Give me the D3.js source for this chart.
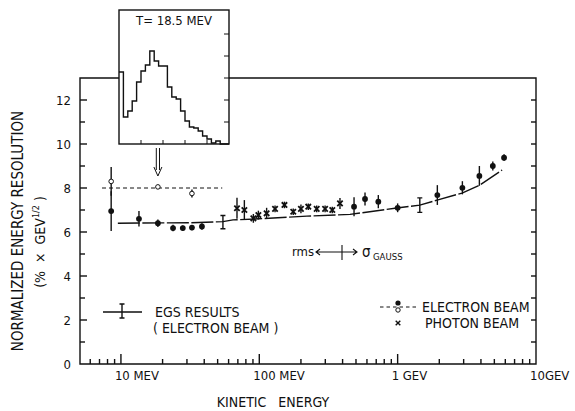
<!DOCTYPE html>
<html><head><meta charset="utf-8">
<script src="https://cdn.jsdelivr.net/npm/d3@7"></script>
<style>
body{margin:0;background:#fff}
svg{display:block;background:#fff}
text{font-family:'DejaVu Sans Condensed','DejaVu Sans',sans-serif;font-stretch:condensed;fill:#111}
</style></head><body>
<svg id="c" width="575" height="411"></svg>
<script>
// Electron beam, filled symbols: kinetic energy (MeV), normalized resolution, error
const elecE   = [8.5, 13.5, 18.5, 23.8, 28, 32.6, 38.5, 484, 581, 725, 1000, 1936, 2937, 3897, 4874, 5877];
const elecV   = [6.95, 6.6, 6.4, 6.18, 6.18, 6.2, 6.25, 7.15, 7.5, 7.38, 7.1, 7.68, 8.01, 8.55, 9.0, 9.38];
const elecErr = [0.9, 0.35, 0.17, 0.15, 0.12, 0.12, 0.15, 0.43, 0.3, 0.3, 0.2, 0.45, 0.3, 0.45, 0.2, 0.15];
// Electron beam, open symbols
const openE   = [8.5, 18.5, 32.6];
const openV   = [8.3, 8.05, 7.75];
const openErr = [0.65, 0.1, 0.18];
const openLevelE = [7.3, 54];
const openLevel  = 8;
// Photon beam
const photE   = [69, 78, 90.6, 98.5, 113, 130, 152, 176, 200, 226, 260, 299, 337, 383];
const photV   = [7.08, 7.0, 6.62, 6.77, 6.85, 7.05, 7.23, 6.92, 7.05, 7.15, 7.05, 7.05, 7.0, 7.3];
const photErr = [0.48, 0.45, 0.2, 0.2, 0.25, 0.15, 0.15, 0.15, 0.2, 0.15, 0.15, 0.15, 0.15, 0.25];
// EGS results (electron beam)
const egsE = [9.5, 31.5, 54.6, 64.6, 100, 221, 453, 956, 1446, 1927, 2922, 3945, 5690];
const egsV = [6.4, 6.42, 6.47, 6.55, 6.6, 6.72, 6.8, 7.08, 7.22, 7.45, 7.77, 8.14, 8.82];
const egsBarE = [54.6, 1446];
const egsBarV = [6.45, 7.22];
const egsBarErr = [0.3, 0.33];
// Line shape at T = 18.5 MeV
const histCounts = [72, 27, 33, 43, 62, 73, 79, 93, 83, 78, 78, 57, 47, 45, 33, 23, 17, 16, 13, 8, 5, 1, 3, 0, 0];
// Axis ticks
const xTickValues = [10, 100, 1000, 10000];
const xTickLabels = ["10 MEV", "100 MEV", "1 GEV", "10GEV"];
const yTickValues = [0, 2, 4, 6, 8, 10, 12];

const svg = d3.select("#c");
const ink = "#111";
const x = d3.scaleLog().domain([5.06, 10000]).range([80, 536]);
const y = d3.scaleLinear().domain([0, 13]).range([364, 78]);
const X0 = x.range()[0], X1 = x.range()[1], Y0 = y(0), Ytop = y(13);

// inset geometry
const ix = d3.scaleLinear().domain([0, histCounts.length]).range([119, 229]);
const iy = d3.scaleLinear().domain([0, 134]).range([144, 10]);

const g = svg.append("g").attr("stroke", ink).attr("fill", "none").attr("stroke-width", 1.4);

// frame
g.append("path").attr("d",
  `M${ix(0)},${Ytop}H${X0}V${Y0}H${X1}V${Ytop}H${ix.range()[1]}`);

// x ticks (inward)
const minor = x.ticks().filter(v => v > x.domain()[0] && v < x.domain()[1]);
minor.forEach(v => {
  const major = Math.abs(Math.log10(v) - Math.round(Math.log10(v))) < 1e-9;
  g.append("line").attr("x1", x(v)).attr("x2", x(v)).attr("y1", Y0).attr("y2", Y0 - (major ? 10 : 5));
});
// y ticks, left and right axes
d3.range(1, 13).forEach(v => {
  const len = v % 2 === 0 ? 7 : 5;
  g.append("line").attr("x1", X0).attr("x2", X0 + len).attr("y1", y(v)).attr("y2", y(v));
  g.append("line").attr("x1", X1).attr("x2", X1 - 5).attr("y1", y(v)).attr("y2", y(v));
});

// tick labels
svg.selectAll("text.xt").data(xTickValues).join("text")
  .attr("x", d => x(d) - 6).attr("y", 380).attr("font-size", 13).text((d, i) => xTickLabels[i]);
svg.selectAll("text.yt").data(yTickValues).join("text")
  .attr("x", 71).attr("y", d => y(d) + 5).attr("text-anchor", "end").attr("font-size", 13).text(d => d);

// axis titles
svg.append("text").attr("x", 273).attr("y", 407).attr("text-anchor", "middle").attr("font-size", 14)
  .attr("xml:space", "preserve").text("KINETIC   ENERGY");
svg.append("text").attr("transform", "translate(23,231) rotate(-90)").attr("text-anchor", "middle")
  .attr("font-size", 15).text("NORMALIZED ENERGY RESOLUTION");
const yt2 = svg.append("text").attr("transform", "translate(45,242) rotate(-90)").attr("text-anchor", "middle")
  .attr("font-size", 14).attr("xml:space", "preserve");
yt2.append("tspan").text("(%  ×  GEV");
yt2.append("tspan").attr("font-size", 9).attr("dy", -6).text("1/2");
yt2.append("tspan").attr("dy", 6).text(" )");

// EGS curve
const line = d3.line().x((d, i) => x(egsE[i])).y(d => y(d));
g.append("path").attr("d", line(egsV)).attr("stroke-dasharray", "22,2.5");
// EGS error bars
egsBarE.forEach((e, i) => {
  const cx = x(e), t = y(egsBarV[i] + egsBarErr[i]), b = y(egsBarV[i] - egsBarErr[i]);
  g.append("path").attr("d", `M${cx},${t}V${b}M${cx-2.5},${t}H${cx+2.5}M${cx-2.5},${b}H${cx+2.5}`);
});

// open-symbol reference level
g.append("line").attr("x1", x(openLevelE[0])).attr("x2", x(openLevelE[1]))
  .attr("y1", y(openLevel)).attr("y2", y(openLevel)).attr("stroke-dasharray", "4,3").attr("stroke-width", 1);

// error bars
function bars(E, V, Err) {
  E.forEach((e, i) => {
    g.append("line").attr("x1", x(e)).attr("x2", x(e))
      .attr("y1", y(V[i] + Err[i])).attr("y2", y(V[i] - Err[i]));
  });
}
bars(elecE, elecV, elecErr);
bars(openE, openV, openErr);
bars(photE, photV, photErr);

// markers
svg.selectAll("circle.f").data(elecV).join("circle")
  .attr("cx", (d, i) => x(elecE[i])).attr("cy", d => y(d)).attr("r", 2.9).attr("fill", ink);
svg.selectAll("circle.o").data(openV).join("circle")
  .attr("cx", (d, i) => x(openE[i])).attr("cy", d => y(d)).attr("r", 2.3)
  .attr("fill", "#fff").attr("stroke", ink).attr("stroke-width", 1);
function cross(cx, cy, s) {
  return `M${cx-s},${cy-s}L${cx+s},${cy+s}M${cx-s},${cy+s}L${cx+s},${cy-s}`;
}
photV.forEach((v, i) => {
  g.append("path").attr("d", cross(x(photE[i]), y(v), 2.7)).attr("stroke-width", 1.8);
});

// arrow marking the energy of the inset line shape
{
  const ax = x(18.5);
  g.append("path").attr("stroke-width", 1)
    .attr("d", `M${ax-1.6},148V170M${ax+1.6},148V170M${ax-4},167L${ax},176L${ax+4},167`);
}

// rms / sigma annotation
svg.append("text").attr("x", 292).attr("y", 256).attr("font-size", 13).text("rms");
g.append("path").attr("stroke-width", 1.1).attr("d", "M316,252H357M320,249L316,252L320,255M353,249L357,252L353,255M342,245V260");
svg.append("text").attr("x", 362).attr("y", 257).attr("font-size", 15).text("σ");
svg.append("text").attr("x", 373).attr("y", 260).attr("font-size", 9.5).text("GAUSS");

// legend: EGS
g.append("path").attr("d", "M103,312H142M122,304V318M119.5,304H124.5M119.5,318H124.5");
svg.append("text").attr("x", 155).attr("y", 317).attr("font-size", 14).text("EGS RESULTS");
svg.append("text").attr("x", 153).attr("y", 333).attr("font-size", 14).attr("xml:space", "preserve")
  .text("( ELECTRON BEAM )");
// legend: beams
g.append("line").attr("x1", 380).attr("x2", 418).attr("y1", 307).attr("y2", 307)
  .attr("stroke-dasharray", "3.5,3").attr("stroke-width", 1);
svg.append("circle").attr("cx", 398).attr("cy", 303).attr("r", 2.6).attr("fill", ink);
svg.append("circle").attr("cx", 398).attr("cy", 310).attr("r", 2.2).attr("fill", "#fff").attr("stroke", ink);
svg.append("text").attr("x", 422).attr("y", 312).attr("font-size", 14).text("ELECTRON BEAM");
g.append("path").attr("d", cross(398, 323, 2.3)).attr("stroke-width", 1.4);
svg.append("text").attr("x", 425).attr("y", 328).attr("font-size", 14).text("PHOTON BEAM");

// inset
const inset = svg.append("g");
inset.append("rect").attr("x", ix(0)).attr("y", iy.range()[1])
  .attr("width", ix.range()[1] - ix(0)).attr("height", iy.range()[0] - iy.range()[1])
  .attr("fill", "#fff").attr("stroke", ink).attr("stroke-width", 1.4);
const hpts = histCounts.map((c, i) => [i, c]).concat([[histCounts.length, histCounts[histCounts.length - 1]]]);
inset.append("path").attr("fill", "none").attr("stroke", ink).attr("stroke-width", 1.4)
  .attr("d", d3.line().x(d => ix(d[0])).y(d => iy(d[1])).curve(d3.curveStepAfter)(hpts));
[5, 10, 15, 20].forEach(b => {
  inset.append("line").attr("stroke", ink).attr("x1", ix(b)).attr("x2", ix(b))
    .attr("y1", iy(0)).attr("y2", iy(0) - 4);
});
[11, 12, 13, 14, 15].forEach(v => {
  inset.append("line").attr("stroke", ink).attr("x1", ix.range()[1]).attr("x2", ix.range()[1] - 5)
    .attr("y1", y(v)).attr("y2", y(v));
});
inset.append("text").attr("x", 174).attr("y", 25).attr("text-anchor", "middle").attr("font-size", 13)
  .text("T= 18.5 MEV");
</script>
</body></html>
